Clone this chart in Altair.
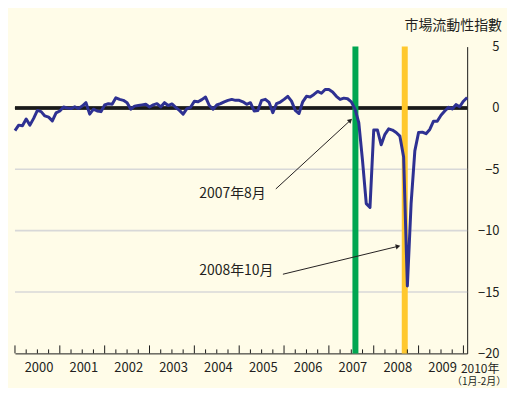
import math
import altair as alt
import pandas as pd

# ---- data ----
values = [
    -1.85, -1.4, -1.45, -0.9, -1.4, -0.85, -0.2, -0.3, -0.65, -0.75, -1.05, -0.4,
    -0.25, 0.08, 0.0, -0.05, 0.1, -0.05, 0.15, 0.43, -0.5, -0.1, -0.25, -0.3,
    0.24, 0.35, 0.3, 0.83, 0.7, 0.62, 0.43, -0.1, 0.15, 0.2, 0.25, 0.3,
    0.08, 0.25, 0.35, 0.08, 0.43, 0.2, 0.33, 0.05, -0.2, -0.5, -0.05, 0.05,
    0.55, 0.5, 0.68, 0.89, 0.2, -0.1, 0.24, 0.35, 0.5, 0.62, 0.7, 0.62,
    0.62, 0.5, 0.3, 0.43, -0.24, -0.2, 0.62, 0.7, 0.45, -0.38, 0.35, 0.48,
    0.7, 0.95, 0.56, -0.2, -0.45, 0.5, 0.95, 0.9, 1.1, 1.35, 1.2, 1.5,
    1.5, 1.3, 0.95, 0.7, 0.8, 0.75, 0.5, -0.1, -1.2, -4.3, -7.8, -8.1,
    -1.8, -1.8, -3.0, -2.15, -1.7, -1.8, -2.0, -2.3, -4.0, -14.5, -7.8, -3.5,
    -2.0, -1.97, -2.1, -1.75, -1.08, -1.08, -0.6, -0.25, 0.05, -0.08, 0.27, 0.1,
    0.55, 0.85,
]
months = list(range(len(values)))  # month index from 2000-01

year_labels = ["2000", "2001", "2002", "2003", "2004",
               "2005", "2006", "2007", "2008", "2009"]
last_label = "2010年"
last_sub = "（1月-2月）"
title_text = "市場流動性指數"

event_pos = [91.1, 104.3]           # 2007年8月, 2008年10月
event_colors = ["#00A651", "#FFC82E"]

grid_vals = [-5, -10, -15]
y_ticks = [5, 0, -5, -10, -15, -20]

ann_text = ["2007年8月", "2008年10月"]
ann_x = [49.3, 49.3]
ann_y = [-7.0, -13.3]
arrow_x0 = [69.8, 71.7]
arrow_y0 = [-6.6, -13.55]
arrow_x1 = [89.6, 102.3]
arrow_y1 = [-1.05, -11.29]

# ---- layout ----
W, H = 454, 308
XMIN, XMAX = 0, 121
YMIN, YMAX = -20, 5
FONT = "Noto Sans CJK JP"
TXT = "#231F20"

xs = alt.Scale(domain=[XMIN, XMAX], nice=False, zero=False)
ys = alt.Scale(domain=[YMIN, YMAX], nice=False, zero=False)

px_x = W / (XMAX - XMIN)
px_y = H / (YMAX - YMIN)
angles = [math.degrees(math.atan2((x1 - x0) * px_x, (y1 - y0) * px_y))
          for x0, y0, x1, y1 in zip(arrow_x0, arrow_y0, arrow_x1, arrow_y1)]

line_df = pd.DataFrame({"i": months, "v": values})
grid_df = pd.DataFrame({"v": grid_vals})
event_df = pd.DataFrame({"x": event_pos, "c": event_colors})
ann_df = pd.DataFrame({"x": ann_x, "y": ann_y, "t": ann_text})
arrow_df = pd.DataFrame({"x0": arrow_x0, "y0": arrow_y0, "x1": arrow_x1,
                         "y1": arrow_y1, "a": angles})
tick_pos = list(range(0, XMAX + 1, 3))
tick_df = pd.DataFrame({"x": tick_pos, "major": [p % 12 == 0 for p in tick_pos]})
last_df = pd.DataFrame({"x": [XMAX], "t": [last_label], "s": [last_sub],
                        "title": [title_text]})

label_array = "[" + ",".join(f"'{y}'" for y in year_labels) + "]"

grid = alt.Chart(grid_df).mark_rule(color="#D8D8D8", strokeWidth=1.6).encode(
    y=alt.Y("v:Q", scale=ys)
)
zero = alt.Chart(grid_df).mark_rule(color="#1A1A1A", strokeWidth=3).encode(
    y=alt.datum(0, scale=ys)
)
events = alt.Chart(event_df).mark_rule(strokeWidth=6).encode(
    x=alt.X("x:Q", scale=xs),
    color=alt.Color("c:N", scale=None),
)
line = alt.Chart(line_df).mark_line(color="#2E3192", strokeWidth=3,
                                     strokeJoin="round").encode(
    x=alt.X("i:Q", scale=xs,
            axis=alt.Axis(values=[6.3 + 12 * k for k in range(len(year_labels))],
                          labelExpr=f"{label_array}[floor(datum.value / 12)]",
                          ticks=False, grid=False, domain=True,
                          domainColor="#1A1A1A", domainWidth=1,
                          labelFont=FONT, labelFontSize=13, labelColor=TXT,
                          labelPadding=8, title=None)),
    y=alt.Y("v:Q", scale=ys,
            axis=alt.Axis(orient="right", values=y_ticks, ticks=False,
                          grid=False, domain=True, domainColor="#1A1A1A",
                          domainWidth=1, labelAlign="right",
                          labelBaseline="middle", labelPadding=32,
                          labelFont=FONT, labelFontSize=13, labelColor=TXT,
                          title=None)),
)
ann = alt.Chart(ann_df).mark_text(align="left", baseline="middle", font=FONT,
                                   fontSize=14, color=TXT).encode(
    x=alt.X("x:Q", scale=xs), y=alt.Y("y:Q", scale=ys), text="t:N"
)
arrows = alt.Chart(arrow_df).mark_rule(color=TXT, strokeWidth=1).encode(
    x=alt.X("x0:Q", scale=xs), y=alt.Y("y0:Q", scale=ys),
    x2="x1:Q", y2="y1:Q",
)
heads = alt.Chart(arrow_df).mark_point(shape="triangle", filled=True, size=28,
                                        color=TXT, opacity=1).encode(
    x=alt.X("x1:Q", scale=xs), y=alt.Y("y1:Q", scale=ys),
    angle=alt.Angle("a:Q", scale=None),
)
major_ticks = alt.Chart(tick_df).transform_filter("datum.major").mark_rule(
    color="#1A1A1A", strokeWidth=1, y2Offset=-8).encode(
    x=alt.X("x:Q", scale=xs),
    y=alt.datum(YMIN, scale=ys), y2=alt.datum(YMIN),
)
minor_ticks = alt.Chart(tick_df).transform_filter("!datum.major").mark_rule(
    color="#1A1A1A", strokeWidth=1, y2Offset=-4).encode(
    x=alt.X("x:Q", scale=xs),
    y=alt.datum(YMIN, scale=ys), y2=alt.datum(YMIN),
)
last1 = alt.Chart(last_df).mark_text(align="center", baseline="middle",
                                      font=FONT, fontSize=12, color=TXT,
                                      dx=13, clip=False).encode(
    x=alt.X("x:Q", scale=xs), y=alt.value(H + 16), text="t:N"
)
last2 = alt.Chart(last_df).mark_text(align="center", baseline="middle",
                                      font=FONT, fontSize=10, color=TXT,
                                      dx=12, clip=False).encode(
    x=alt.X("x:Q", scale=xs), y=alt.value(H + 29), text="s:N"
)
title = alt.Chart(last_df).mark_text(align="right", baseline="middle",
                                      font=FONT, fontSize=14, color=TXT,
                                      dx=35, clip=False).encode(
    x=alt.X("x:Q", scale=xs), y=alt.value(-21), text="title:N"
)

chart = alt.layer(
    grid, zero, events, line, ann, arrows, heads, major_ticks, minor_ticks,
    last1, last2, title,
).properties(
    width=W, height=H,
    padding={"left": 5, "top": 10, "right": 0, "bottom": 0},
    background="#FFFCE8",
).configure_view(stroke=None)

chart.save("out.html", embed_options={"renderer": "svg", "actions": False})
